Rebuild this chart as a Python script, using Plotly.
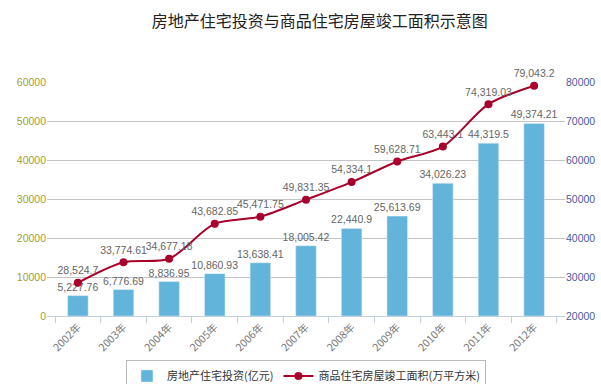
import plotly.graph_objects as go

years = ["2002年", "2003年", "2004年", "2005年", "2006年", "2007年",
         "2008年", "2009年", "2010年", "2011年", "2012年"]
investment = [5227.76, 6776.69, 8836.95, 10860.93, 13638.41, 18005.42,
              22440.9, 25613.69, 34026.23, 44319.5, 49374.21]
completed_area = [28524.7, 33774.61, 34677.18, 43682.85, 45471.75, 49831.35,
                  54334.1, 59628.71, 63443.1, 74319.03, 79043.2]

bar_name = "房地产住宅投资(亿元)"
line_name = "商品住宅房屋竣工面积(万平方米)"
title_text = "房地产住宅投资与商品住宅房屋竣工面积示意图"

def fmt(v):
    s = f"{v:,.2f}"
    s = s.rstrip("0").rstrip(".")
    return s

font_family = "Liberation Sans, Arial, Noto Sans CJK SC, sans-serif"

fig = go.Figure()
fig.add_trace(go.Bar(
    x=years, y=investment, name=bar_name,
    marker=dict(color="#63b4da"),
    width=0.45,
    text=[fmt(v) for v in investment],
    textposition="outside",
    constraintext="none",
    textfont=dict(size=10.5, color="#666666", family=font_family),
    cliponaxis=False,
))
fig.add_trace(go.Scatter(
    x=years, y=completed_area, name=line_name, yaxis="y2",
    mode="lines+markers+text",
    line=dict(color="#a8002a", width=2, shape="spline", smoothing=0.8),
    marker=dict(color="#a8002a", size=8),
    text=[fmt(v) for v in completed_area],
    textposition="top center",
    textfont=dict(size=10.5, color="#666666", family=font_family),
    cliponaxis=False,
))

fig.update_layout(
    width=601, height=384,
    margin=dict(l=47, r=36, t=82, b=68, autoexpand=False),
    paper_bgcolor="white", plot_bgcolor="white",
    font=dict(family=font_family),
    title=dict(text=title_text, x=0.532, xanchor="center", y=0.943, yanchor="middle",
               yref="container",
               font=dict(size=16, color="#222222", family="Noto Sans CJK SC")),
    showlegend=True,
    legend=dict(orientation="h", x=0.5, xanchor="center", y=-0.19, yanchor="top",
                bordercolor="#bbbbbb", borderwidth=1,
                font=dict(size=11, color="#333333", family="Noto Sans CJK SC"),
                itemwidth=30, tracegroupgap=0),
    xaxis=dict(
        tickangle=-45, tickfont=dict(size=10.5, color="#777777", family="Noto Sans CJK SC, sans-serif"),
        showline=True, linecolor="#c0d0e0", linewidth=1,
        ticks="outside", tickson="boundaries", ticklen=6, tickcolor="#c0d0e0",
        showgrid=False, automargin=False,
    ),
    yaxis=dict(
        range=[0, 60000], dtick=10000, tickformat="d",
        tickfont=dict(size=10.5, color="#a0a030"),
        showgrid=True, gridcolor="#c4c4c4", gridwidth=1,
        zeroline=False, showline=False, automargin=False,
    ),
    yaxis2=dict(
        range=[20000, 80000], dtick=10000, tickformat="d",
        overlaying="y", side="right",
        tickfont=dict(size=10.5, color="#4a5aa0"),
        showgrid=False, zeroline=False, showline=False,
        ticks="", automargin=False,
    ),
    bargap=0.55,
)

fig.write_html("out.html", config={"displayModeBar": False},
               post_script="document.body.style.margin='0';document.body.style.overflow='hidden';")
